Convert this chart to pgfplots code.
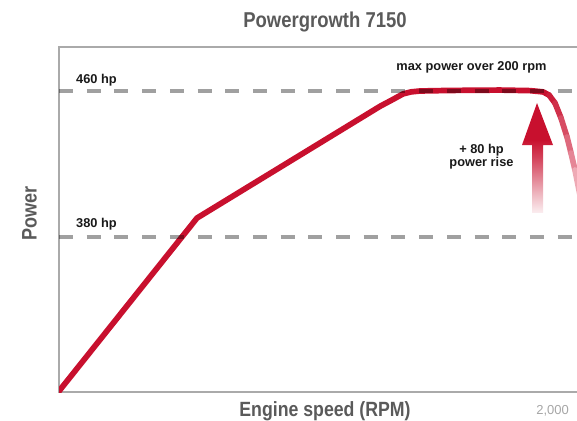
\documentclass[border=0pt]{standalone}
\usepackage{fontspec}
\setmainfont{Liberation Sans}
\newfontfamily\condfont{Liberation Sans}[FakeStretch=0.86]
\usepackage{pgfplots}
\pgfplotsset{compat=1.18}
\definecolor{myred}{RGB}{200,16,46}
\definecolor{dashgray}{RGB}{160,160,160}
\definecolor{framegray}{RGB}{170,170,170}
\definecolor{titlegray}{RGB}{90,90,90}
\definecolor{labelblack}{RGB}{25,25,25}
\pgfdeclareverticalshading{arrowfade}{100bp}{color(0bp)=(white); color(25bp)=(white); color(35bp)=(myred!30!white); color(50bp)=(myred!80!white); color(57bp)=(myred); color(100bp)=(myred)}
\begin{document}
\begin{tikzpicture}
\useasboundingbox (-59pt,-28pt) rectangle (518pt,392pt);
\begin{axis}[name=ax, at={(0,0)}, anchor=south west, scale only axis,
  width=518pt, height=345pt, xmin=0, xmax=518, ymin=295.1, ymax=484.1,
  axis lines=none, clip mode=individual,
  colormap={fade}{rgb255=(245,200,208) rgb255=(200,16,46)},
  point meta min=400, point meta max=460]
\draw[framegray, line width=1.5pt] (rel axis cs:1,1) -- (rel axis cs:0,1) -- (rel axis cs:0,0) -- (rel axis cs:1,0);
\addplot[myred, line width=5.7pt, line join=round, line cap=round] coordinates {
  (-2,294.2) (138,390.4) (321,451.6) (333,455.1)
  (344,458.4) (352,459.5) (361,460.0) (391,460.3) (441,460.5) (471,460.2)
  (484,459.5) (490,457.8)};
\addplot[mesh, point meta=y, line width=5.7pt, line cap=round, line join=round] coordinates {
  (490,457.8) (496,453.4) (502,445.2) (508,434.8) (512,426.0) (516,416.7) (521,403.0) (526,390.0)};
\shade[shading=arrowfade] (axis cs:478,453.4) -- (axis cs:494,430.4) -- (axis cs:484,430.4) -- (axis cs:484,393.2) -- (axis cs:473,393.2) -- (axis cs:473,430.4) -- (axis cs:463,430.4) -- cycle;
\addplot[dashgray, line width=3.5pt, dash pattern=on 14pt off 13.7pt, blend mode=multiply] coordinates {(0,460) (518,460)};
\addplot[dashgray, line width=3.5pt, dash pattern=on 14pt off 13.7pt, blend mode=multiply] coordinates {(0,380) (518,380)};
\end{axis}
\node[anchor=base, font=\condfont\bfseries\fontsize{21.5}{21.5}\selectfont, text=titlegray] at (266pt,364.5pt) {Powergrowth 7150};
\node[anchor=base, font=\condfont\bfseries\fontsize{20.6}{20.6}\selectfont, text=titlegray] at (266pt,-24pt) {Engine speed (RPM)};
\node[anchor=base, rotate=90, font=\condfont\bfseries\fontsize{21}{21}\selectfont, text=titlegray] at (-22.3pt,178.5pt) {Power};
\node[anchor=base east, font=\fontsize{13}{13}\selectfont, text=black!35, inner sep=0pt] at (510pt,-22pt) {2,000};
\node[anchor=base west, font=\bfseries\fontsize{12.8}{12.8}\selectfont, text=labelblack, inner sep=0pt] at (17pt,308pt) {460 hp};
\node[anchor=base west, font=\bfseries\fontsize{12.8}{12.8}\selectfont, text=labelblack, inner sep=0pt] at (17pt,164pt) {380 hp};
\node[anchor=base, font=\bfseries\fontsize{12.8}{12.8}\selectfont, text=labelblack, inner sep=0pt] at (412.5pt,321.3pt) {max power over 200 rpm};
\node[anchor=base, font=\bfseries\fontsize{12.8}{12.8}\selectfont, text=labelblack, inner sep=0pt] at (422.5pt,238pt) {+ 80 hp};
\node[anchor=base, font=\bfseries\fontsize{12.8}{12.8}\selectfont, text=labelblack, inner sep=0pt] at (422.5pt,225.3pt) {power rise};
\end{tikzpicture}
\end{document}
